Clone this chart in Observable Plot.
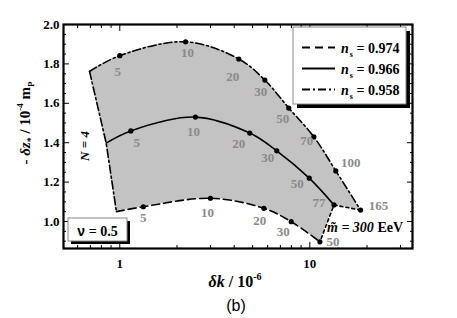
<!DOCTYPE html>
<html><head><meta charset="utf-8">
<script src="https://cdn.jsdelivr.net/npm/d3@7"></script>
<script src="https://cdn.jsdelivr.net/npm/@observablehq/plot@0.6"></script>
<style>body{margin:0;background:#fff} svg{display:block}</style>
</head><body><div id="chart"></div>
<script>
// n_s = 0.958 (dash-dot, upper curve)
const upperDk = [0.693, 1.0, 2.22, 4.23, 5.8, 7.75, 10.5, 13.7, 18.5];
const upperDz = [1.762, 1.842, 1.912, 1.825, 1.718, 1.576, 1.43, 1.257, 1.058];
const upperN  = ["", "5", "10", "20", "30", "50", "70", "100", "165"];
// n_s = 0.966 (solid, middle curve)
const middleDk = [0.848, 1.143, 2.5, 4.83, 6.7, 9.93, 13.4];
const middleDz = [1.398, 1.46, 1.53, 1.449, 1.359, 1.22, 1.084];
const middleN  = ["", "5", "10", "20", "30", "50", "77"];
// n_s = 0.974 (dashed, lower curve)
const lowerDk = [0.96, 1.33, 3.0, 5.73, 7.98, 11.3];
const lowerDz = [1.05, 1.075, 1.118, 1.067, 0.999, 0.897];
const lowerN  = ["", "5", "10", "20", "30", "50"];

const nsValues = ["0.974", "0.966", "0.958"];
const xTicks = [1, 10];
const xMinor = [0.6, 0.7, 0.8, 0.9, 2, 3, 4, 5, 6, 7, 8, 9, 20, 30];
const yTicks = [1.0, 1.2, 1.4, 1.6, 1.8, 2.0];
const yMinor = [0.9, 0.95, 1.05, 1.1, 1.15, 1.25, 1.3, 1.35, 1.45, 1.5, 1.55, 1.65, 1.7, 1.75, 1.85, 1.9, 1.95];

// layout: label offsets (px) for each point label
const labelOffsets = {
  upper:  [null, [-2, 16], [2, 11], [-6, 18], [-4, 12], [-6, 11], [-7, 4], [15, -8], [18, -4]],
  middle: [null, [6, 12], [-2, 15], [-11, 11], [-9, 7], [-12, 6], [-15, -2]],
  lower:  [null, [0, 11], [-3, 15], [-4, 13], [-8, 10], [13, 0]]
};

const rows = (dk, dz, n, key) => dk.map((x, i) => ({x, y: dz[i], n: n[i], key, i}));
const upper = rows(upperDk, upperDz, upperN, "upper");
const middle = rows(middleDk, middleDz, middleN, "middle");
const lower = rows(lowerDk, lowerDz, lowerN, "lower");
const leftEdge = [upper[0], middle[0], lower[0]];
const rightEdge = [upper[upper.length - 1], middle[middle.length - 1], lower[lower.length - 1]];
const labeled = [...upper, ...middle, ...lower].filter(d => d.n !== "");

const SERIF = "'Liberation Serif', 'Times New Roman', serif";
const SANS = "'Liberation Sans', Arial, sans-serif";

function fillRegion(index, scales) {
  const {x, y} = scales;
  const gen = d3.line().curve(d3.curveCatmullRom).x(d => x(d.x)).y(d => y(d.y));
  const top = gen(upper);
  const bottom = gen(lower.slice().reverse()).replace(/^M/, "L");
  const m = middle[middle.length - 1], m0 = middle[0];
  const d = top + `L${x(m.x)},${y(m.y)}` + bottom + `L${x(m0.x)},${y(m0.y)}Z`;
  const g = d3.create("svg:g");
  g.append("path").attr("d", d).attr("fill", "#c3c3c3").attr("stroke", "none");
  return g.node();
}

const labelMarks = labeled.map(d => {
  const [dx, dy] = labelOffsets[d.key][d.i];
  return Plot.text([d], {x: "x", y: "y", text: "n", dx, dy, fill: "#8a8a8a",
    fontFamily: SERIF, fontWeight: "bold", fontSize: 13, textAnchor: "middle", lineAnchor: "middle"});
});

const tickStyle = {fill: "none", label: null, stroke: "#000", strokeWidth: 1};
const textStyle = {fontFamily: SERIF, fontWeight: "bold", fontSize: 13, fill: "#000", label: null, tickSize: 0};

const svg = Plot.plot({
  width: 457, height: 318,
  marginLeft: 63, marginRight: 45, marginTop: 24, marginBottom: 70,
  x: {type: "log", domain: [0.5056, 34.7]},
  y: {domain: [0.863, 2.0]},
  style: {background: "#fff"},
  marks: [
    fillRegion,
    Plot.line(upper, {x: "x", y: "y", curve: "catmull-rom", stroke: "#000", strokeWidth: 1.6, strokeDasharray: "8,3,2,3"}),
    Plot.line(middle, {x: "x", y: "y", curve: "catmull-rom", stroke: "#000", strokeWidth: 1.6}),
    Plot.line(lower, {x: "x", y: "y", curve: "catmull-rom", stroke: "#000", strokeWidth: 1.6, strokeDasharray: "8,4"}),
    Plot.line(leftEdge, {x: "x", y: "y", stroke: "#000", strokeWidth: 1.6, strokeDasharray: "8,3,2,3"}),
    Plot.line(rightEdge, {x: "x", y: "y", stroke: "#000", strokeWidth: 1.6, strokeDasharray: "3,3"}),
    Plot.dot(labeled, {x: "x", y: "y", r: 2.6, fill: "#000", stroke: "none"}),
    ...labelMarks,
    // axes: inward ticks on all four sides
    Plot.axisX(xTicks, {anchor: "bottom", tickSize: -6, ...tickStyle}),
    Plot.axisX(xMinor, {anchor: "bottom", tickSize: -3, ...tickStyle}),
    Plot.axisX(xTicks, {anchor: "top", tickSize: -6, ...tickStyle}),
    Plot.axisX(xMinor, {anchor: "top", tickSize: -3, ...tickStyle}),
    Plot.axisY(yTicks, {anchor: "left", tickSize: -6, ...tickStyle}),
    Plot.axisY(yMinor, {anchor: "left", tickSize: -3, ...tickStyle}),
    Plot.axisY(yTicks, {anchor: "right", tickSize: -6, ...tickStyle}),
    Plot.axisY(yMinor, {anchor: "right", tickSize: -3, ...tickStyle}),
    Plot.axisX(xTicks, {anchor: "bottom", tickPadding: 10, tickFormat: d => String(d), ...textStyle}),
    Plot.axisY(yTicks, {anchor: "left", tickPadding: 4, tickFormat: d3.format(".1f"), ...textStyle}),
    Plot.frame({stroke: "#000", strokeWidth: 2.2})
  ]
});

const s = d3.select(svg);
const ann = s.append("g").attr("font-family", SERIF).attr("font-weight", "bold").attr("fill", "#000").attr("text-anchor", "start");

// legend box with shadow
ann.append("rect").attr("x", 297).attr("y", 31).attr("width", 113).attr("height", 77).attr("fill", "#000");
ann.append("rect").attr("x", 293).attr("y", 27).attr("width", 113).attr("height", 77).attr("fill", "#fff").attr("stroke", "#888").attr("stroke-width", 1);
const dashes = ["8,5", null, "8,3,2,3"];
nsValues.forEach((ns, k) => {
  const ry = 47.5 + k * 21;
  const ln = ann.append("line").attr("x1", 302).attr("x2", 335).attr("y1", ry).attr("y2", ry).attr("stroke", "#000").attr("stroke-width", 2);
  if (dashes[k]) ln.attr("stroke-dasharray", dashes[k]);
  const t = ann.append("text").attr("x", 341).attr("y", ry + 5).attr("font-size", 14).attr("text-anchor", "start");
  t.append("tspan").attr("font-style", "italic").text("n");
  t.append("tspan").attr("font-size", 8).attr("dy", 4).attr("dx", 1).text("s");
  t.append("tspan").attr("dy", -4).text(" = " + ns);
});

// nu box with shadow
ann.append("rect").attr("x", 71).attr("y", 221).attr("width", 59).attr("height", 23).attr("fill", "#000");
ann.append("rect").attr("x", 68).attr("y", 218).attr("width", 59).attr("height", 23).attr("fill", "#fff").attr("stroke", "#888").attr("stroke-width", 1);
const nu = ann.append("text").attr("x", 97.5).attr("y", 235.5).attr("text-anchor", "middle").attr("font-size", 14);
nu.append("tspan").attr("font-family", SANS).text("ν");
nu.append("tspan").text(" = 0.5");

// N = 4
ann.append("text").attr("transform", "translate(89,146) rotate(-90)").attr("text-anchor", "middle")
  .attr("font-size", 13).attr("font-style", "italic").text("N = 4");

// m~ = 300 EeV
const mt = ann.append("text").attr("x", 327).attr("y", 232).attr("font-size", 14).attr("text-anchor", "start");
mt.append("tspan").attr("font-style", "italic").text("m\u0303 = 300");
mt.append("tspan").text(" EeV");

// y-axis title
const yt = ann.append("text").attr("transform", "translate(30,123) rotate(-90)").attr("text-anchor", "middle").attr("font-size", 15);
yt.append("tspan").text("- ");
yt.append("tspan").attr("font-style", "italic").text("δz");
yt.append("tspan").attr("font-size", 10).attr("dy", 4).text("*");
yt.append("tspan").attr("dy", -4).text(" / 10");
yt.append("tspan").attr("font-size", 9).attr("dy", -7).text("-4");
yt.append("tspan").attr("dy", 7).text(" m");
yt.append("tspan").attr("font-size", 9).attr("dy", 4).text("P");

// x-axis title
const xt = ann.append("text").attr("x", 235).attr("y", 287).attr("text-anchor", "middle").attr("font-size", 16);
xt.append("tspan").attr("font-style", "italic").text("δk");
xt.append("tspan").text(" / 10");
xt.append("tspan").attr("font-size", 10).attr("dy", -7).text("-6");

// panel tag
s.append("text").attr("x", 236).attr("y", 311).attr("text-anchor", "middle")
  .attr("font-family", SANS).attr("font-size", 16).attr("fill", "#000").text("(b)");

document.getElementById("chart").appendChild(svg);
</script>
</body></html>
